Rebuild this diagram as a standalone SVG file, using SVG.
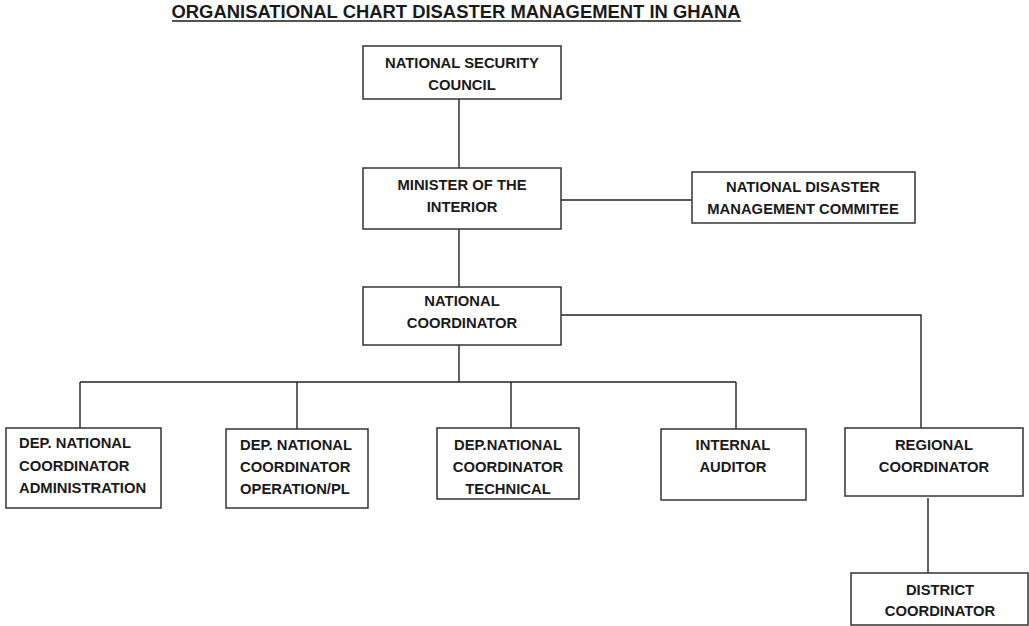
<svg xmlns="http://www.w3.org/2000/svg" width="1029" height="626" viewBox="0 0 1029 626">
<style>
.box{fill:#fff;stroke:#333;stroke-width:1.5}
.t{font-family:"Liberation Sans",Arial,sans-serif;font-weight:bold;font-size:14.8px;fill:#1a1a1a;text-anchor:middle}
.l{text-anchor:start}
.c{fill:none;stroke:#222;stroke-width:1.4}
</style>
<rect width="1029" height="626" fill="#fff"/>
<text x="456" y="18" class="t" style="font-size:18px" textLength="569" lengthAdjust="spacingAndGlyphs">ORGANISATIONAL CHART DISASTER MANAGEMENT IN GHANA</text>
<line x1="172" y1="21" x2="741" y2="21" stroke="#1a1a1a" stroke-width="1.5"/>
<g id="connectors">
<path class="c" d="M459 99V168M561 200H692M459 229V287M459 345V382M80 382H736M80 382V428M297 382V429M511 382V428M736 382V429M561 315H921V428M928 498V573"/>
</g>
<g id="nsc"><rect class="box" x="363" y="46" width="198" height="53"/><text class="t" x="462" y="68">NATIONAL SECURITY</text><text class="t" x="462" y="90">COUNCIL</text></g>
<g id="minister"><rect class="box" x="363" y="168" width="198" height="61"/><text class="t" x="462" y="190">MINISTER OF THE</text><text class="t" x="462" y="212">INTERIOR</text></g>
<g id="ndmc"><rect class="box" x="692" y="172" width="223" height="51"/><text class="t" x="803" y="192">NATIONAL DISASTER</text><text class="t" x="803" y="214">MANAGEMENT COMMITEE</text></g>
<g id="natcoord"><rect class="box" x="363" y="287" width="198" height="58"/><text class="t" x="462" y="306">NATIONAL</text><text class="t" x="462" y="328">COORDINATOR</text></g>
<g id="admin"><rect class="box" x="6" y="428" width="155" height="80"/><text class="t l" x="19" y="448">DEP. NATIONAL</text><text class="t l" x="19" y="471">COORDINATOR</text><text class="t l" x="19" y="493">ADMINISTRATION</text></g>
<g id="operation"><rect class="box" x="226" y="429" width="142" height="79"/><text class="t l" x="240" y="450">DEP. NATIONAL</text><text class="t l" x="240" y="472">COORDINATOR</text><text class="t l" x="240" y="494">OPERATION/PL</text></g>
<g id="technical"><rect class="box" x="437" y="428" width="142" height="71"/><text class="t" x="508" y="450">DEP.NATIONAL</text><text class="t" x="508" y="472">COORDINATOR</text><text class="t" x="508" y="494">TECHNICAL</text></g>
<g id="auditor"><rect class="box" x="661" y="429" width="145" height="71"/><text class="t" x="733" y="450">INTERNAL</text><text class="t" x="733" y="472">AUDITOR</text></g>
<g id="regional"><rect class="box" x="845" y="428" width="178" height="68"/><text class="t" x="934" y="450">REGIONAL</text><text class="t" x="934" y="472">COORDINATOR</text></g>
<g id="district"><rect class="box" x="851" y="573" width="177" height="52"/><text class="t" x="940" y="595">DISTRICT</text><text class="t" x="940" y="616">COORDINATOR</text></g>
</svg>
